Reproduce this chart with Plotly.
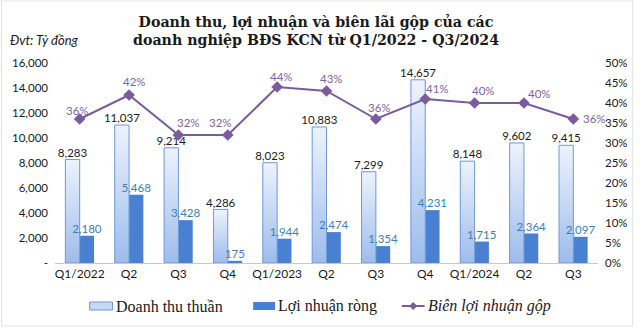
import plotly.graph_objects as go

quarters = ["Q1/2022", "Q2", "Q3", "Q4", "Q1/2023", "Q2", "Q3", "Q4", "Q1/2024", "Q2", "Q3"]
revenue = [8283, 11037, 9214, 4286, 8023, 10883, 7299, 14657, 8148, 9602, 9415]
net_profit = [2180, 5468, 3428, 175, 1944, 2474, 1354, 4231, 1715, 2364, 2097]
gross_margin = [36, 42, 32, 32, 44, 43, 36, 41, 40, 40, 36]

left_ticks = [0, 2000, 4000, 6000, 8000, 10000, 12000, 14000, 16000]
left_tick_text = ["-", "2,000", "4,000", "6,000", "8,000", "10,000", "12,000", "14,000", "16,000"]
right_ticks = [0, 5, 10, 15, 20, 25, 30, 35, 40, 45, 50]

# numeric x positions so repeated quarter labels stay distinct
x = list(range(len(quarters)))
BAR_W = 0.29          # width of each bar in category units
REV_FILL_BOTTOM = "#9dbcec"
REV_FILL_TOP = "#edf3fd"
REV_EDGE = "#6f98d4"
PROFIT_COLOR = "#4a80d2"
MARGIN_COLOR = "#7a5c9e"

# plot-area geometry in pixels, used to place title and legend items in paper units
L, R, T, B = 55, 37, 63, 65
PW, PH = 640 - L - R, 328 - T - B


def px_x(p):
    return (p - L) / PW


def px_y(p):
    return (328 - B - p) / PH


def fmt(v):
    return f"{v:,}"


fig = go.Figure()

# net profit bars (right half of each category)
fig.add_trace(go.Bar(
    x=x, y=net_profit, name="Lợi nhuận ròng",
    width=BAR_W, offset=0,
    marker=dict(color=PROFIT_COLOR, line=dict(width=0)),
    hoverinfo="skip", showlegend=False,
))

# revenue bars (left half): gradient-filled rectangles built from each value
for xi, v in zip(x, revenue):
    fig.add_trace(go.Scatter(
        x=[xi - BAR_W, xi, xi, xi - BAR_W, xi - BAR_W],
        y=[0, 0, v, v, 0],
        mode="lines", fill="toself",
        fillgradient=dict(type="vertical",
                          colorscale=[[0, REV_FILL_BOTTOM], [1, REV_FILL_TOP]]),
        line=dict(color=REV_EDGE, width=1),
        hoverinfo="skip", showlegend=False,
    ))

# value labels above each bar
fig.add_trace(go.Scatter(
    x=[xi - BAR_W / 2 for xi in x], y=revenue, mode="text",
    text=[fmt(v) for v in revenue], textposition="top center",
    textfont=dict(family="Lato", size=11.5, color="#1a1a1a"),
    cliponaxis=False, hoverinfo="skip", showlegend=False,
))
fig.add_trace(go.Scatter(
    x=[xi + BAR_W / 2 for xi in x], y=net_profit, mode="text",
    text=[fmt(v) for v in net_profit], textposition="top center",
    textfont=dict(family="Lato", size=11.5, color="#3a7fb8"),
    cliponaxis=False, hoverinfo="skip", showlegend=False,
))

# gross margin line on the right axis
fig.add_trace(go.Scatter(
    x=x, y=gross_margin, name="Biên lợi nhuận gộp", yaxis="y2",
    mode="lines+markers",
    line=dict(color=MARGIN_COLOR, width=2),
    marker=dict(symbol="diamond", size=9, color=MARGIN_COLOR),
    cliponaxis=False, showlegend=False,
))

# percentage labels placed around each marker (pixel offsets)
label_shift = [(-2, 9), (5, 14), (10, 13), (-7, 13), (4, 11), (5, 13), (4, 12), (12, 11), (9, 13), (16, 10), (21, 1)]
for xi, m, (dx, dy) in zip(x, gross_margin, label_shift):
    fig.add_annotation(
        x=xi, y=m, yref="y2", text=f"{m}%", showarrow=False,
        xshift=dx, yshift=dy,
        font=dict(family="Lato", size=11.5, color="#8064a2"),
    )

fig.update_layout(
    width=640, height=328,
    margin=dict(l=L, r=R, t=T, b=B),
    paper_bgcolor="white", plot_bgcolor="white",
    barmode="overlay",
    showlegend=False,
    xaxis=dict(
        range=[-0.5, len(quarters) - 0.5],
        tickmode="array", tickvals=x, ticktext=quarters,
        tickfont=dict(family="Lato", size=12, color="#1a1a1a"),
        showline=True, linecolor="#c8c8c8", linewidth=1,
        showgrid=False, ticks="", zeroline=False,
    ),
    yaxis=dict(
        range=[0, 16000], tickvals=left_ticks, ticktext=left_tick_text,
        tickfont=dict(family="Lato", size=11.5, color="#1a1a1a"),
        showgrid=False, zeroline=False, ticks="", ticklabelstandoff=6,
    ),
    yaxis2=dict(
        range=[0, 50], overlaying="y", side="right",
        tickvals=right_ticks, ticktext=[f"{t}%" for t in right_ticks],
        tickfont=dict(family="Lato", size=11.5, color="#1a1a1a"),
        showgrid=False, zeroline=False, ticks="", ticklabelstandoff=6,
    ),
)

# title
fig.add_annotation(
    x=px_x(318), y=px_y(31), xref="paper", yref="paper",
    xanchor="center", yanchor="middle", align="center", showarrow=False,
    text="<b>Doanh thu, lợi nhuận và biên lãi gộp của các<br>doanh nghiệp BĐS KCN từ Q1/2022 - Q3/2024</b>",
    font=dict(family="DejaVu Serif", size=14.2, color="#1a1a1a"),
)
# unit note
fig.add_annotation(
    x=px_x(8), y=px_y(40), xref="paper", yref="paper",
    xanchor="left", yanchor="middle", showarrow=False,
    text="<i>Đvt: Tỷ đồng</i>",
    font=dict(family="Lato", size=13, color="#1a1a1a"),
)

# legend row
LEG_Y = 306
legend_font = dict(family="Liberation Serif", size=16, color="#1a1a1a")
fig.add_shape(type="rect", xref="paper", yref="paper",
              x0=px_x(90), x1=px_x(113), y0=px_y(310), y1=px_y(302),
              fillcolor="#c6d8f4", line=dict(color=REV_EDGE, width=1))
fig.add_annotation(x=px_x(115), y=px_y(LEG_Y), xref="paper", yref="paper",
                   xanchor="left", yanchor="middle", showarrow=False,
                   text="Doanh thu thuần", font=legend_font)
fig.add_shape(type="rect", xref="paper", yref="paper",
              x0=px_x(255), x1=px_x(277), y0=px_y(310), y1=px_y(302),
              fillcolor=PROFIT_COLOR, line=dict(width=0))
fig.add_annotation(x=px_x(278), y=px_y(LEG_Y), xref="paper", yref="paper",
                   xanchor="left", yanchor="middle", showarrow=False,
                   text="Lợi nhuận ròng", font=legend_font)
fig.add_shape(type="line", xref="paper", yref="paper",
              x0=px_x(405), x1=px_x(428), y0=px_y(LEG_Y), y1=px_y(LEG_Y),
              line=dict(color=MARGIN_COLOR, width=2))
fig.add_shape(type="path", xref="paper", yref="paper",
              path=(f"M {px_x(416.5)} {px_y(LEG_Y - 4)} L {px_x(420.5)} {px_y(LEG_Y)} "
                    f"L {px_x(416.5)} {px_y(LEG_Y + 4)} L {px_x(412.5)} {px_y(LEG_Y)} Z"),
              fillcolor=MARGIN_COLOR, line=dict(width=0))
fig.add_annotation(x=px_x(429), y=px_y(LEG_Y), xref="paper", yref="paper",
                   xanchor="left", yanchor="middle", showarrow=False,
                   text="<i>Biên lợi nhuận gộp</i>", font=legend_font)

# thin frame around the whole graphic
fig.add_shape(type="rect", xref="paper", yref="paper",
              x0=px_x(1), x1=px_x(638), y0=px_y(326), y1=px_y(1),
              line=dict(color="#e2e2e2", width=1), layer="below")

fig.write_html("out.html")
